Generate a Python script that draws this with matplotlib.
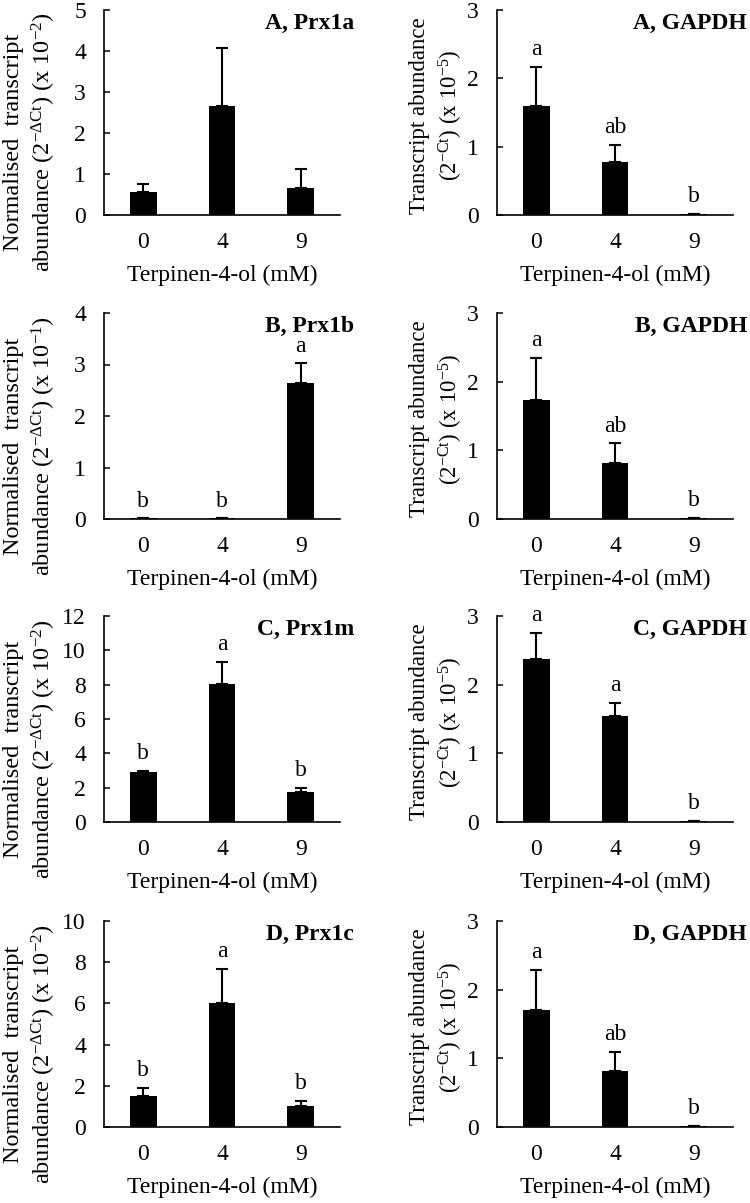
import matplotlib
matplotlib.use("Agg")
import matplotlib.pyplot as plt
import numpy as np

plt.rcParams['font.family'] = ['Liberation Serif', 'DejaVu Serif']
plt.rcParams['mathtext.fontset'] = 'custom'
plt.rcParams['mathtext.rm'] = 'Liberation Serif'
plt.rcParams['mathtext.it'] = 'Liberation Serif:italic'
plt.rcParams['mathtext.bf'] = 'Liberation Serif:bold'

# ---- data ----
doses = ['0', '4', '9']

prx_titles = ['A, Prx1a', 'B, Prx1b', 'C, Prx1m', 'D, Prx1c']
prx_mean = [[0.556, 2.65, 0.66],
            [0.01, 0.01, 2.65],
            [2.89, 8.04, 1.72],
            [1.51, 6.00, 1.00]]
prx_err = [[0.21, 1.43, 0.47],
           [0.0, 0.0, 0.37],
           [0.11, 1.30, 0.26],
           [0.39, 1.65, 0.26]]
prx_letters = [['', '', ''],
               ['b', 'b', 'a'],
               ['b', 'a', 'b'],
               ['b', 'a', 'b']]
prx_ymax = [5, 4, 12, 10]
prx_ystep = [1, 1, 2, 2]
prx_exp = ['-2', '-1', '-2', '-2']

gapdh_titles = ['A, GAPDH', 'B, GAPDH', 'C, GAPDH', 'D, GAPDH']
gapdh_mean = [[1.60, 0.77, 0.01],
              [1.74, 0.82, 0.01],
              [2.38, 1.55, 0.01],
              [1.70, 0.81, 0.01]]
gapdh_err = [[0.565, 0.26, 0.0],
             [0.61, 0.28, 0.0],
             [0.37, 0.18, 0.0],
             [0.59, 0.28, 0.0]]
gapdh_letters = [['a', 'ab', 'b'],
                 ['a', 'ab', 'b'],
                 ['a', 'a', 'b'],
                 ['a', 'ab', 'b']]
gapdh_ymax = 3

# ---- layout (pixels of a 750 x 1203 canvas) ----
W, H = 750, 1203
fig = plt.figure(figsize=(W / 100, H / 100), dpi=100)
row_px = [(10, 215), (313, 519), (616, 822), (921, 1127)]
col_x = [104, 497]
ax_w = 236


def draw_panel(ax, means, errs, letters, title, ymax, ystep, ylabel,
               label_xy, label_size, spacing):
    x = np.arange(len(doses))
    ax.bar(x, means, width=0.34, color='black', zorder=2)
    ax.errorbar(x, means, yerr=[np.zeros(len(errs)), errs], fmt='none',
                ecolor='black', elinewidth=1.5, capsize=4, capthick=1.5,
                zorder=3)
    for xi, m, e, t in zip(x, means, errs, letters):
        if t:
            ax.annotate(t, (xi, m + e), xytext=(0, 5),
                        textcoords='offset points', ha='center',
                        va='bottom', fontsize=17)
    ax.set_xlim(-0.5, len(doses) - 0.5)
    ax.set_ylim(0, ymax)
    ax.set_yticks(np.arange(0, ymax + ystep / 2, ystep))
    ax.set_xticks(x)
    ax.set_xticklabels(doses)
    ax.tick_params(axis='x', length=0, pad=12, labelsize=17)
    ax.tick_params(axis='y', direction='in', length=4.5, width=1.1,
                   pad=13, labelsize=17)
    for s in ['top', 'right']:
        ax.spines[s].set_visible(False)
    for s in ['left', 'bottom']:
        ax.spines[s].set_linewidth(1.2)
    ax.set_xlabel('Terpinen-4-ol (mM)', fontsize=17, labelpad=9)
    ax.set_ylabel(ylabel, fontsize=label_size, linespacing=spacing)
    ax.yaxis.set_label_coords(*label_xy)
    ax.text(1.06, 0.985, title, transform=ax.transAxes, ha='right',
            va='top', fontsize=17, fontweight='bold')


for r in range(4):
    top, bot = row_px[r]
    for c in range(2):
        ax = fig.add_axes([col_x[c] / W, 1 - bot / H, ax_w / W,
                           (bot - top) / H])
        if c == 0:
            ylabel = ('Normalised  transcript\nabundance '
                      r'(2$^{\mathregular{-\Delta Ct}}$) (x 10$^{\mathregular{'
                      + prx_exp[r] + '}}$)')
            draw_panel(ax, prx_mean[r], prx_err[r], prx_letters[r],
                       prx_titles[r], prx_ymax[r], prx_ystep[r], ylabel,
                       (-0.195, 0.353), 17.5, 1.3)
        else:
            ylabel = ('Transcript abundance\n'
                      r'(2$^{\mathregular{-Ct}}$) (x 10$^{\mathregular{-5}}$)')
            draw_panel(ax, gapdh_mean[r], gapdh_err[r], gapdh_letters[r],
                       gapdh_titles[r], gapdh_ymax, 1, ylabel,
                       (-0.135, 0.485), 16.5, 1.35)

plt.savefig('out.png', dpi=100)
